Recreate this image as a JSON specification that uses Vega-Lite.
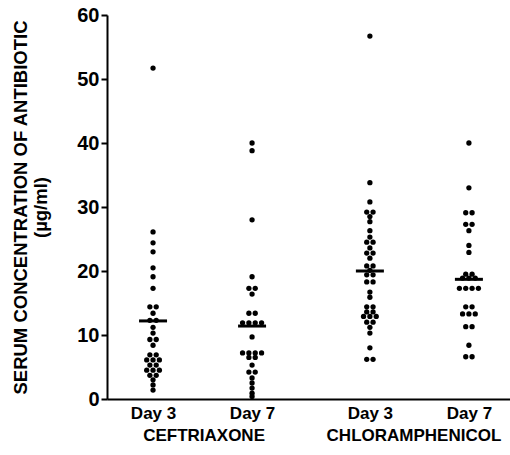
{
  "$schema": "https://vega.github.io/schema/vega-lite/v6.json",
  "width": 403,
  "height": 384,
  "autosize": {"type": "none"},
  "padding": {"left": 107, "top": 15, "right": 0, "bottom": 56},
  "background": "white",
  "config": {
    "view": {"stroke": null},
    "font": "Liberation Sans",
    "axis": {"grid": false, "domainColor": "black", "tickColor": "black", "labelColor": "black", "titleColor": "black", "labelFontWeight": "bold", "titleFontWeight": "bold"}
  },
  "datasets": {
    "dots": [
      {"drug": "CEFTRIAXONE", "day": "Day 3", "v": 51.7},
      {"drug": "CEFTRIAXONE", "day": "Day 3", "v": 26.1},
      {"drug": "CEFTRIAXONE", "day": "Day 3", "v": 24.4},
      {"drug": "CEFTRIAXONE", "day": "Day 3", "v": 23.0},
      {"drug": "CEFTRIAXONE", "day": "Day 3", "v": 20.5},
      {"drug": "CEFTRIAXONE", "day": "Day 3", "v": 19.1},
      {"drug": "CEFTRIAXONE", "day": "Day 3", "v": 17.3},
      {"drug": "CEFTRIAXONE", "day": "Day 3", "v": 14.4},
      {"drug": "CEFTRIAXONE", "day": "Day 3", "v": 14.4},
      {"drug": "CEFTRIAXONE", "day": "Day 3", "v": 13.4},
      {"drug": "CEFTRIAXONE", "day": "Day 3", "v": 12.3},
      {"drug": "CEFTRIAXONE", "day": "Day 3", "v": 12.3},
      {"drug": "CEFTRIAXONE", "day": "Day 3", "v": 11.2},
      {"drug": "CEFTRIAXONE", "day": "Day 3", "v": 10.3},
      {"drug": "CEFTRIAXONE", "day": "Day 3", "v": 9.3},
      {"drug": "CEFTRIAXONE", "day": "Day 3", "v": 9.3},
      {"drug": "CEFTRIAXONE", "day": "Day 3", "v": 8.4},
      {"drug": "CEFTRIAXONE", "day": "Day 3", "v": 6.9},
      {"drug": "CEFTRIAXONE", "day": "Day 3", "v": 6.9},
      {"drug": "CEFTRIAXONE", "day": "Day 3", "v": 6.1},
      {"drug": "CEFTRIAXONE", "day": "Day 3", "v": 6.1},
      {"drug": "CEFTRIAXONE", "day": "Day 3", "v": 6.1},
      {"drug": "CEFTRIAXONE", "day": "Day 3", "v": 5.3},
      {"drug": "CEFTRIAXONE", "day": "Day 3", "v": 5.3},
      {"drug": "CEFTRIAXONE", "day": "Day 3", "v": 4.5},
      {"drug": "CEFTRIAXONE", "day": "Day 3", "v": 4.5},
      {"drug": "CEFTRIAXONE", "day": "Day 3", "v": 4.5},
      {"drug": "CEFTRIAXONE", "day": "Day 3", "v": 3.7},
      {"drug": "CEFTRIAXONE", "day": "Day 3", "v": 3.7},
      {"drug": "CEFTRIAXONE", "day": "Day 3", "v": 3.0},
      {"drug": "CEFTRIAXONE", "day": "Day 3", "v": 2.2},
      {"drug": "CEFTRIAXONE", "day": "Day 3", "v": 1.4},
      {"drug": "CEFTRIAXONE", "day": "Day 7", "v": 40.0},
      {"drug": "CEFTRIAXONE", "day": "Day 7", "v": 38.8},
      {"drug": "CEFTRIAXONE", "day": "Day 7", "v": 28.0},
      {"drug": "CEFTRIAXONE", "day": "Day 7", "v": 19.1},
      {"drug": "CEFTRIAXONE", "day": "Day 7", "v": 17.3},
      {"drug": "CEFTRIAXONE", "day": "Day 7", "v": 17.3},
      {"drug": "CEFTRIAXONE", "day": "Day 7", "v": 16.4},
      {"drug": "CEFTRIAXONE", "day": "Day 7", "v": 13.4},
      {"drug": "CEFTRIAXONE", "day": "Day 7", "v": 13.4},
      {"drug": "CEFTRIAXONE", "day": "Day 7", "v": 11.9},
      {"drug": "CEFTRIAXONE", "day": "Day 7", "v": 11.9},
      {"drug": "CEFTRIAXONE", "day": "Day 7", "v": 11.9},
      {"drug": "CEFTRIAXONE", "day": "Day 7", "v": 11.9},
      {"drug": "CEFTRIAXONE", "day": "Day 7", "v": 9.7},
      {"drug": "CEFTRIAXONE", "day": "Day 7", "v": 7.2},
      {"drug": "CEFTRIAXONE", "day": "Day 7", "v": 7.2},
      {"drug": "CEFTRIAXONE", "day": "Day 7", "v": 7.2},
      {"drug": "CEFTRIAXONE", "day": "Day 7", "v": 7.2},
      {"drug": "CEFTRIAXONE", "day": "Day 7", "v": 6.5},
      {"drug": "CEFTRIAXONE", "day": "Day 7", "v": 6.5},
      {"drug": "CEFTRIAXONE", "day": "Day 7", "v": 5.3},
      {"drug": "CEFTRIAXONE", "day": "Day 7", "v": 4.2},
      {"drug": "CEFTRIAXONE", "day": "Day 7", "v": 4.2},
      {"drug": "CEFTRIAXONE", "day": "Day 7", "v": 3.3},
      {"drug": "CEFTRIAXONE", "day": "Day 7", "v": 2.5},
      {"drug": "CEFTRIAXONE", "day": "Day 7", "v": 1.7},
      {"drug": "CEFTRIAXONE", "day": "Day 7", "v": 0.9},
      {"drug": "CEFTRIAXONE", "day": "Day 7", "v": 0.4},
      {"drug": "CHLORAMPHENICOL", "day": "Day 3", "v": 56.7},
      {"drug": "CHLORAMPHENICOL", "day": "Day 3", "v": 33.8},
      {"drug": "CHLORAMPHENICOL", "day": "Day 3", "v": 30.8},
      {"drug": "CHLORAMPHENICOL", "day": "Day 3", "v": 29.2},
      {"drug": "CHLORAMPHENICOL", "day": "Day 3", "v": 29.2},
      {"drug": "CHLORAMPHENICOL", "day": "Day 3", "v": 28.5},
      {"drug": "CHLORAMPHENICOL", "day": "Day 3", "v": 27.7},
      {"drug": "CHLORAMPHENICOL", "day": "Day 3", "v": 26.3},
      {"drug": "CHLORAMPHENICOL", "day": "Day 3", "v": 25.3},
      {"drug": "CHLORAMPHENICOL", "day": "Day 3", "v": 24.5},
      {"drug": "CHLORAMPHENICOL", "day": "Day 3", "v": 24.5},
      {"drug": "CHLORAMPHENICOL", "day": "Day 3", "v": 23.6},
      {"drug": "CHLORAMPHENICOL", "day": "Day 3", "v": 22.8},
      {"drug": "CHLORAMPHENICOL", "day": "Day 3", "v": 22.8},
      {"drug": "CHLORAMPHENICOL", "day": "Day 3", "v": 22.0},
      {"drug": "CHLORAMPHENICOL", "day": "Day 3", "v": 20.8},
      {"drug": "CHLORAMPHENICOL", "day": "Day 3", "v": 20.8},
      {"drug": "CHLORAMPHENICOL", "day": "Day 3", "v": 20.1},
      {"drug": "CHLORAMPHENICOL", "day": "Day 3", "v": 19.4},
      {"drug": "CHLORAMPHENICOL", "day": "Day 3", "v": 19.4},
      {"drug": "CHLORAMPHENICOL", "day": "Day 3", "v": 18.3},
      {"drug": "CHLORAMPHENICOL", "day": "Day 3", "v": 18.3},
      {"drug": "CHLORAMPHENICOL", "day": "Day 3", "v": 16.7},
      {"drug": "CHLORAMPHENICOL", "day": "Day 3", "v": 15.9},
      {"drug": "CHLORAMPHENICOL", "day": "Day 3", "v": 14.4},
      {"drug": "CHLORAMPHENICOL", "day": "Day 3", "v": 14.4},
      {"drug": "CHLORAMPHENICOL", "day": "Day 3", "v": 13.6},
      {"drug": "CHLORAMPHENICOL", "day": "Day 3", "v": 13.6},
      {"drug": "CHLORAMPHENICOL", "day": "Day 3", "v": 12.9},
      {"drug": "CHLORAMPHENICOL", "day": "Day 3", "v": 12.9},
      {"drug": "CHLORAMPHENICOL", "day": "Day 3", "v": 12.9},
      {"drug": "CHLORAMPHENICOL", "day": "Day 3", "v": 12.0},
      {"drug": "CHLORAMPHENICOL", "day": "Day 3", "v": 12.0},
      {"drug": "CHLORAMPHENICOL", "day": "Day 3", "v": 11.2},
      {"drug": "CHLORAMPHENICOL", "day": "Day 3", "v": 10.3},
      {"drug": "CHLORAMPHENICOL", "day": "Day 3", "v": 8.0},
      {"drug": "CHLORAMPHENICOL", "day": "Day 3", "v": 6.2},
      {"drug": "CHLORAMPHENICOL", "day": "Day 3", "v": 6.2},
      {"drug": "CHLORAMPHENICOL", "day": "Day 7", "v": 40.0},
      {"drug": "CHLORAMPHENICOL", "day": "Day 7", "v": 33.0},
      {"drug": "CHLORAMPHENICOL", "day": "Day 7", "v": 29.1},
      {"drug": "CHLORAMPHENICOL", "day": "Day 7", "v": 29.1},
      {"drug": "CHLORAMPHENICOL", "day": "Day 7", "v": 27.3},
      {"drug": "CHLORAMPHENICOL", "day": "Day 7", "v": 27.3},
      {"drug": "CHLORAMPHENICOL", "day": "Day 7", "v": 26.3},
      {"drug": "CHLORAMPHENICOL", "day": "Day 7", "v": 24.0},
      {"drug": "CHLORAMPHENICOL", "day": "Day 7", "v": 22.9},
      {"drug": "CHLORAMPHENICOL", "day": "Day 7", "v": 19.5},
      {"drug": "CHLORAMPHENICOL", "day": "Day 7", "v": 19.5},
      {"drug": "CHLORAMPHENICOL", "day": "Day 7", "v": 18.9},
      {"drug": "CHLORAMPHENICOL", "day": "Day 7", "v": 18.9},
      {"drug": "CHLORAMPHENICOL", "day": "Day 7", "v": 18.9},
      {"drug": "CHLORAMPHENICOL", "day": "Day 7", "v": 17.3},
      {"drug": "CHLORAMPHENICOL", "day": "Day 7", "v": 17.3},
      {"drug": "CHLORAMPHENICOL", "day": "Day 7", "v": 17.3},
      {"drug": "CHLORAMPHENICOL", "day": "Day 7", "v": 17.3},
      {"drug": "CHLORAMPHENICOL", "day": "Day 7", "v": 14.4},
      {"drug": "CHLORAMPHENICOL", "day": "Day 7", "v": 14.4},
      {"drug": "CHLORAMPHENICOL", "day": "Day 7", "v": 13.3},
      {"drug": "CHLORAMPHENICOL", "day": "Day 7", "v": 13.3},
      {"drug": "CHLORAMPHENICOL", "day": "Day 7", "v": 13.3},
      {"drug": "CHLORAMPHENICOL", "day": "Day 7", "v": 11.3},
      {"drug": "CHLORAMPHENICOL", "day": "Day 7", "v": 11.3},
      {"drug": "CHLORAMPHENICOL", "day": "Day 7", "v": 8.4},
      {"drug": "CHLORAMPHENICOL", "day": "Day 7", "v": 6.6},
      {"drug": "CHLORAMPHENICOL", "day": "Day 7", "v": 6.6}
    ],
    "medians": [
      {"drug": "CEFTRIAXONE", "day": "Day 3", "v": 12.2},
      {"drug": "CEFTRIAXONE", "day": "Day 7", "v": 11.4},
      {"drug": "CHLORAMPHENICOL", "day": "Day 3", "v": 20.0},
      {"drug": "CHLORAMPHENICOL", "day": "Day 7", "v": 18.7}
    ],
    "drugs": [
      {"drug": "CEFTRIAXONE"},
      {"drug": "CHLORAMPHENICOL"}
    ]
  },
  "resolve": {"scale": {"x": "independent"}, "axis": {"x": "independent"}},
  "layer": [
    {
      "layer": [
        {
          "data": {"name": "dots"},
          "transform": [
            {"window": [{"op": "row_number", "as": "k"}, {"op": "count", "as": "n"}], "groupby": ["drug", "day", "v"], "frame": [null, null]},
            {"calculate": "(datum.drug == 'CEFTRIAXONE' ? 0 : 2.19) + (datum.day == 'Day 3' ? 0 : 1) + (datum.k - (datum.n + 1) / 2) * 0.064", "as": "xpos"}
          ],
          "mark": {"type": "circle", "color": "black", "opacity": 1, "size": 28},
          "encoding": {
            "x": {
              "field": "xpos", "type": "quantitative",
              "scale": {"domain": [-0.465, 3.605], "nice": false, "zero": false},
              "axis": {
                "title": null, "values": [0, 1, 2.19, 3.19], "ticks": false, "domainWidth": 2,
                "labelExpr": "(datum.value < 0.5 || (datum.value > 2 && datum.value < 2.5)) ? 'Day 3' : 'Day 7'",
                "labelFontSize": 17, "labelPadding": 6, "labelFlush": false, "labelBaseline": "top"
              }
            },
            "y": {
              "field": "v", "type": "quantitative",
              "scale": {"domain": [0, 60], "nice": false},
              "axis": {
                "values": [0, 10, 20, 30, 40, 50, 60], "domainWidth": 2, "tickWidth": 2, "tickSize": 6,
                "labelFontSize": 20, "labelPadding": 2,
                "title": ["SERUM CONCENTRATION OF ANTIBIOTIC", "(µg/ml)"],
                "titleFontSize": 18.5, "titleLineHeight": 20, "titlePadding": 26
              }
            }
          }
        },
        {
          "data": {"name": "medians"},
          "transform": [
            {"calculate": "(datum.drug == 'CEFTRIAXONE' ? 0 : 2.19) + (datum.day == 'Day 3' ? 0 : 1)", "as": "xpos"}
          ],
          "mark": {"type": "tick", "orient": "horizontal", "size": 28, "thickness": 3, "color": "black", "opacity": 1},
          "encoding": {
            "x": {"field": "xpos", "type": "quantitative"},
            "y": {"field": "v", "type": "quantitative"}
          }
        }
      ]
    },
    {
      "data": {"name": "drugs"},
      "mark": {"type": "point", "opacity": 0},
      "encoding": {
        "x": {
          "field": "drug", "type": "nominal",
          "scale": {"type": "point", "padding": 0.46},
          "axis": {"orient": "bottom", "offset": 24, "domain": false, "ticks": false, "title": null, "labelAngle": 0, "labelFontSize": 17, "labelPadding": 4, "labelBaseline": "top"}
        }
      }
    }
  ]
}
